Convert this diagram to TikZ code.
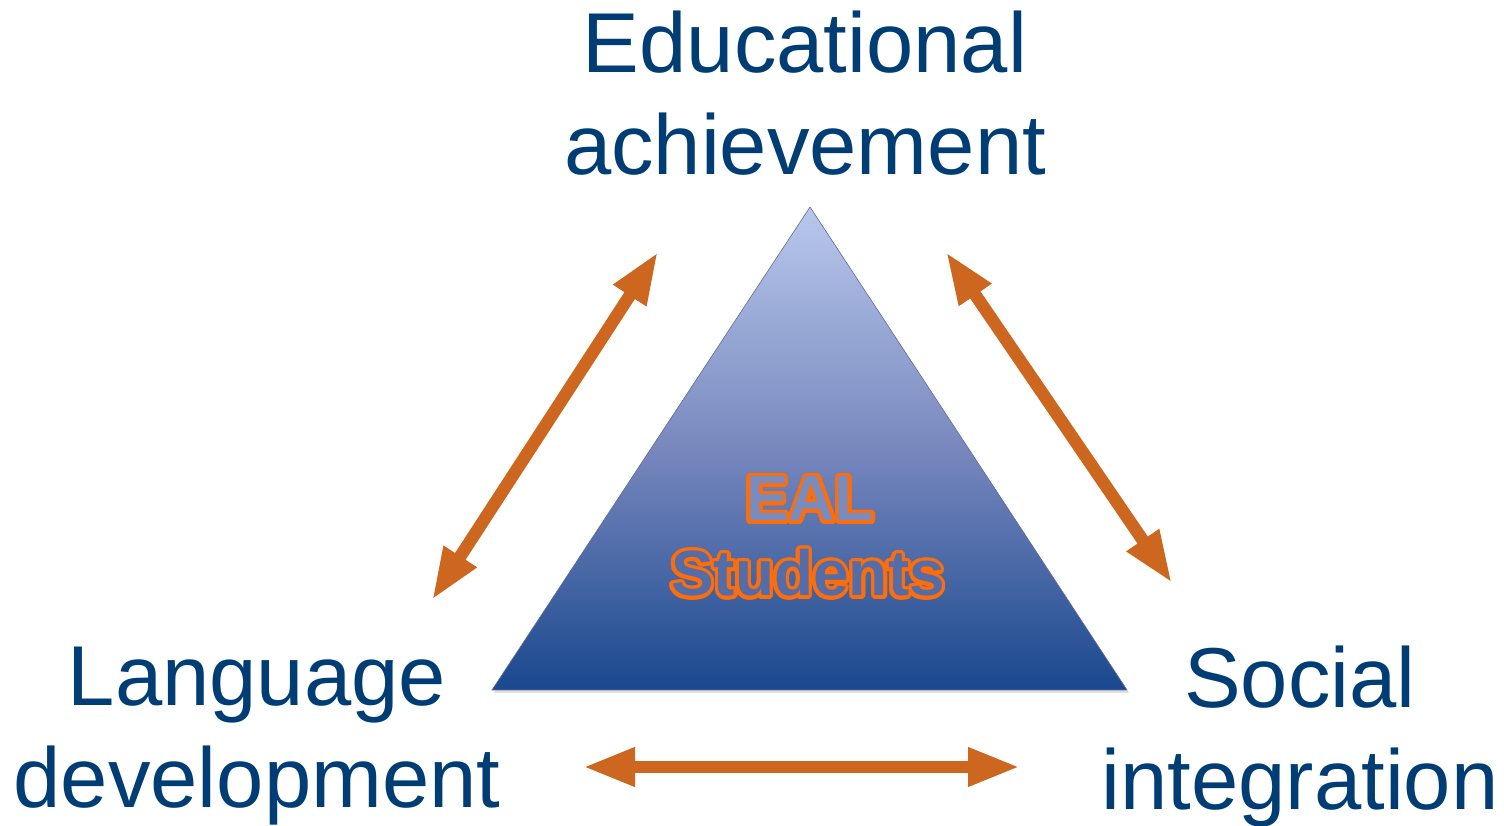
\documentclass[tikz,border=0pt]{standalone}
\usepackage{fontspec}
\setmainfont{Liberation Sans}
\usepackage[copies]{contour}
\usetikzlibrary{arrows.meta,shadows}
\definecolor{labelblue}{RGB}{0,61,116}
\definecolor{arroworange}{RGB}{205,102,30}
\definecolor{ealorange}{RGB}{255,108,10}
\definecolor{tritop}{RGB}{184,200,236}
\definecolor{trimid}{RGB}{120,136,190}
\definecolor{tribot}{RGB}{26,72,142}
\definecolor{ealfillA}{RGB}{122,140,190}
\definecolor{ealfillB}{RGB}{84,108,168}
\tikzset{
  label/.style={font=\fontsize{85}{102}\selectfont, text=labelblue, align=center, inner sep=0pt, anchor=base},
  link/.style={draw=arroworange, line width=12.5pt, {Triangle[length=52pt,width=36pt]}-{Triangle[length=52pt,width=36pt]}},
  eal/.style={font=\fontsize{64}{76}\selectfont\bfseries, inner sep=0pt, anchor=base}
}
\contourlength{3.6pt}
\begin{document}
\begin{tikzpicture}[x=1pt,y=1pt]
\useasboundingbox (0,0) rectangle (1504,826);
% triangle
\coordinate (apex) at (810,619);
\coordinate (bl) at (492,136);
\coordinate (br) at (1127,136);
\shade[top color=tritop, bottom color=tribot, middle color=trimid, draw=trimid!80!black, line width=0.6pt,
  drop shadow={opacity=0.25, shadow xshift=2pt, shadow yshift=-3pt}] (apex) -- (br) -- (bl) -- cycle;
% labels (base anchor = baseline of last line)
\node[label] (edu) at (805,651) {Educational\\achievement};
\node[label] (lang) at (257,18) {Language\\development};
\node[label] (soc) at (1300,16) {Social\\integration};
% EAL students
\node[eal] (ealA) at (810,305) {\contour{ealorange}{\textcolor{ealfillA}{EAL}}};
\node[eal] (ealB) at (808,230) {\contour{ealorange}{\textcolor{ealfillB}{Students}}};
% arrow ends
\coordinate (l1) at (432,226);
\coordinate (l2) at (658,574);
\coordinate (r1) at (946,574);
\coordinate (r2) at (1172,243);
\coordinate (b1) at (583,59);
\coordinate (b2) at (1020,59);
\draw[link] (l1) -- (l2);
\draw[link] (r1) -- (r2);
\draw[link] (b1) -- (b2);
\end{tikzpicture}
\end{document}
